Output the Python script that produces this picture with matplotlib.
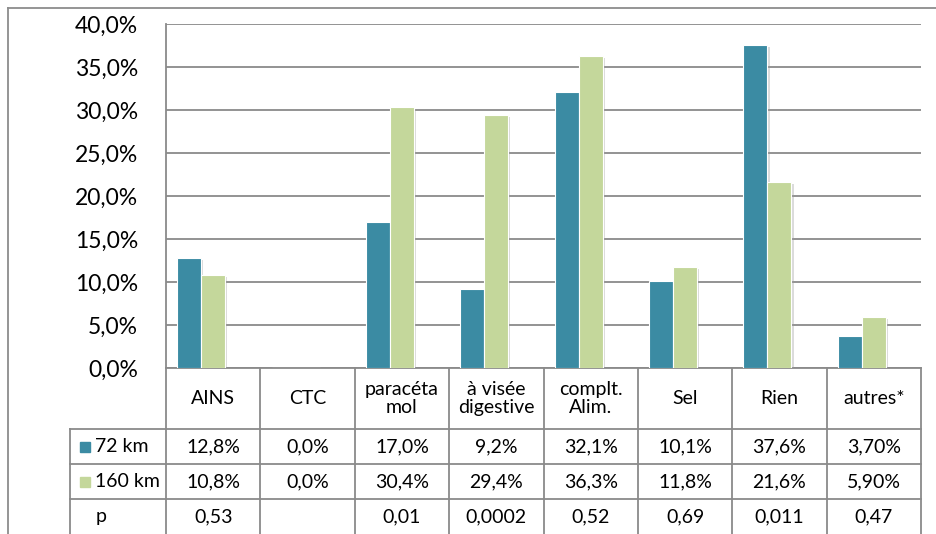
import matplotlib
matplotlib.use("Agg")
import matplotlib.pyplot as plt
import matplotlib.patheffects as pe
from matplotlib.transforms import blended_transform_factory
import numpy as np

categories = ["AINS", "CTC", "paracéta\nmol", "à visée\ndigestive",
              "complt.\nAlim.", "Sel", "Rien", "autres*"]
km72 = [12.8, 0.0, 17.0, 9.2, 32.1, 10.1, 37.6, 3.70]
km160 = [10.8, 0.0, 30.4, 29.4, 36.3, 11.8, 21.6, 5.90]
decimals = [1, 1, 1, 1, 1, 1, 1, 2]
p_values = ["0,53", "", "0,01", "0,0002", "0,52", "0,69", "0,011", "0,47"]
series_names = ["72 km", "160 km"]

BLUE = "#3b8ba3"
GREEN = "#c4d79b"
GRID = "#8a8a8a"

plt.rcParams["font.family"] = ["Lato", "DejaVu Sans"]

W, H = 936, 534
fig = plt.figure(figsize=(W / 100, H / 100), dpi=100)

def fx(px):
    return px / W

def fy(py):
    return 1 - py / H

# plot area in pixels
left, right, top, bottom = 166, 921, 24, 368
ax = fig.add_axes([fx(left), fy(bottom), fx(right - left), (bottom - top) / H])

x = np.arange(len(categories))
w = 0.254
shadow = [pe.SimplePatchShadow(offset=(1.5, -1.5), shadow_rgbFace="#999999", alpha=0.35), pe.Normal()]
b1 = ax.bar(x - w, km72, width=w, color=BLUE, edgecolor="white", linewidth=0.8, zorder=3)
b2 = ax.bar(x, km160, width=w, color=GREEN, edgecolor="white", linewidth=0.8, zorder=3)
for b in list(b1) + list(b2):
    b.set_path_effects(shadow)

ax.set_xlim(-0.5, len(categories) - 0.5)
ax.set_ylim(0, 40)
ax.set_yticks(np.arange(0, 41, 5))
ax.set_yticklabels([f"{v:.1f}%".replace(".", ",") for v in np.arange(0, 41, 5)], fontsize=16.5)
ax.tick_params(axis="y", length=0, pad=20)
ax.set_xticks([])
ax.grid(axis="y", color=GRID, linewidth=1.3, zorder=0)
for s in ["top", "right"]:
    ax.spines[s].set_visible(False)
ax.spines["left"].set_color(GRID)
ax.spines["left"].set_linewidth(1.3)
ax.spines["bottom"].set_color(GRID)
ax.spines["bottom"].set_linewidth(1.3)

# data table under the chart
tr = blended_transform_factory(ax.transData, fig.transFigure)
rows_px = [368, 429, 464, 499, 534]
lw = 1.3
x0 = -0.5
leg_left = fx(70)
for yy in rows_px[1:4]:
    fig.add_artist(plt.Line2D([leg_left, fx(right)], [fy(yy), fy(yy)], color=GRID, lw=lw))
for i in range(len(categories) + 1):
    xe = x0 + i
    ax.plot([xe, xe], [fy(rows_px[0]), fy(rows_px[-1])], transform=tr, color=GRID,
            lw=lw, clip_on=False)
fig.add_artist(plt.Line2D([leg_left, leg_left], [fy(rows_px[1]), fy(rows_px[-1])], color=GRID, lw=lw))

fs = 14
for i, cat in enumerate(categories):
    ym = fy((rows_px[0] + rows_px[1]) / 2)
    ax.text(i, ym, cat, transform=tr, ha="center", va="center", fontsize=fs,
            linespacing=1.1, clip_on=False)
    for r, (vals, yy) in enumerate([(km72, rows_px[1]), (km160, rows_px[2])]):
        s = f"{vals[i]:.{decimals[i]}f}%".replace(".", ",")
        ax.text(i, fy(yy + (rows_px[r + 2] - yy) / 2), s, transform=tr,
                ha="center", va="center", fontsize=fs, clip_on=False)
    ax.text(i, fy((rows_px[3] + rows_px[4]) / 2), p_values[i], transform=tr,
            ha="center", va="center", fontsize=fs, clip_on=False)

# legend keys in the first column
for r, (name, col) in enumerate(zip(series_names, [BLUE, GREEN])):
    yc = (rows_px[r + 1] + rows_px[r + 2]) / 2
    fig.add_artist(plt.Rectangle((fx(79.5), fy(yc + 5)), fx(10), 10 / H, color=col))
    fig.text(fx(95), fy(yc), name, ha="left", va="center", fontsize=fs)
fig.text(fx(96), fy((rows_px[3] + rows_px[4]) / 2), "p", ha="left", va="center", fontsize=fs)

# outer chart border
fig.add_artist(plt.Line2D([fx(8), fx(8)], [fy(8), 0], color="#8c8c8c", lw=1.3))
fig.add_artist(plt.Line2D([fx(8), 1], [fy(8), fy(8)], color="#8c8c8c", lw=1.3))

fig.savefig("out.png", dpi=100)
